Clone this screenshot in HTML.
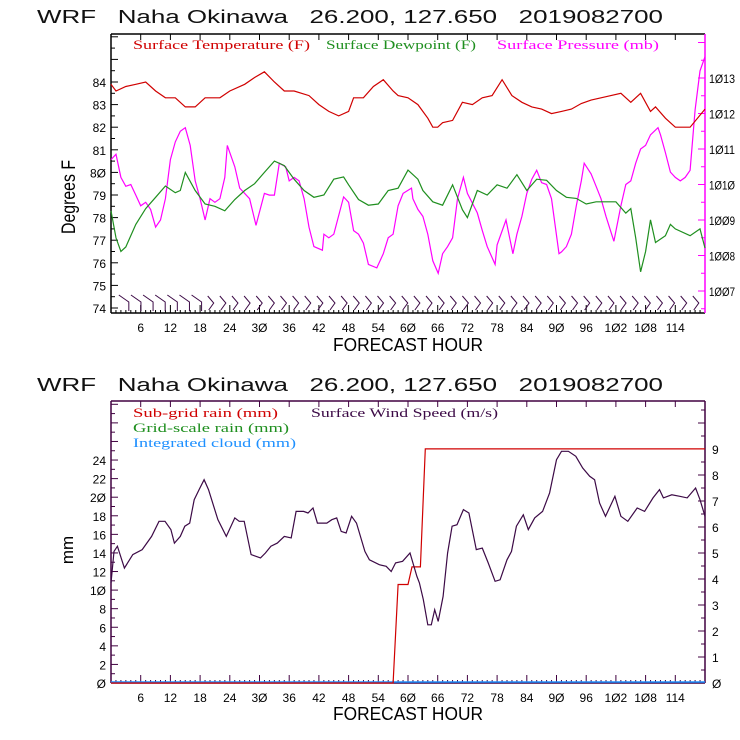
<!DOCTYPE html>
<html><head><meta charset="utf-8"><style>
html,body{margin:0;padding:0;background:#fff;}
svg{display:block;}
text{font-family:"Liberation Sans",sans-serif;}
.t{font-size:18px;fill:#111;}
.lg{font-family:"Liberation Serif",serif;font-size:13px;}
.tk{font-size:12px;}
</style></head><body>
<svg id="svg" width="740" height="740" viewBox="0 0 740 740" xmlns="http://www.w3.org/2000/svg">
<text class="t" x="37" y="23" textLength="626" lengthAdjust="spacingAndGlyphs" xml:space="preserve">WRF   Naha Okinawa   26.200, 127.650   2019082700</text>
<text class="t" x="37" y="391" textLength="626" lengthAdjust="spacingAndGlyphs" xml:space="preserve">WRF   Naha Okinawa   26.200, 127.650   2019082700</text>
<g id="top"></g>
<g id="bot"></g>
<text class="lg" x="133" y="49" fill="#d00000" textLength="177" lengthAdjust="spacingAndGlyphs">Surface Temperature (F)</text>
<text class="lg" x="326" y="49" fill="#1f8f1f" textLength="150" lengthAdjust="spacingAndGlyphs">Surface Dewpoint (F)</text>
<text class="lg" x="497" y="49" fill="#ff00ff" textLength="162" lengthAdjust="spacingAndGlyphs">Surface Pressure (mb)</text>
<text class="lg" x="133" y="417" fill="#d00000" textLength="145" lengthAdjust="spacingAndGlyphs">Sub-grid rain (mm)</text>
<text class="lg" x="133" y="432" fill="#1f8f1f" textLength="156" lengthAdjust="spacingAndGlyphs">Grid-scale rain (mm)</text>
<text class="lg" x="133" y="447" fill="#1e90ff" textLength="163" lengthAdjust="spacingAndGlyphs">Integrated cloud (mm)</text>
<text class="lg" x="311" y="417" fill="#3c0a46" textLength="187" lengthAdjust="spacingAndGlyphs">Surface Wind Speed (m/s)</text>
<text x="75" y="197" font-size="19" transform="rotate(-90 75 197)" text-anchor="middle" textLength="74" lengthAdjust="spacingAndGlyphs">Degrees F</text>
<text x="73" y="550" font-size="17" transform="rotate(-90 73 550)" text-anchor="middle">mm</text>
<text x="408" y="351" font-size="18" text-anchor="middle" textLength="150" lengthAdjust="spacingAndGlyphs">FORECAST HOUR</text>
<text x="408" y="720" font-size="18" text-anchor="middle" textLength="150" lengthAdjust="spacingAndGlyphs">FORECAST HOUR</text>
</svg>
<script>
const tempHours=[0,1,3,5,7,9,11,13,15,17,19,22,24,27,29,31,33,35,37,40,42,44,46,48,49,51,53,55,57,58,60,62,64,65,66,67,69,71,73,75,77,79,81,83,85,87,89,91,93,95,97,100,103,105,107,109,110,112,114,117,120];
const tempVals=[83.9,83.6,83.8,83.9,84.0,83.6,83.3,83.3,82.9,82.9,83.3,83.3,83.6,83.9,84.2,84.45,84.0,83.6,83.6,83.4,83.0,82.7,82.5,82.7,83.3,83.3,83.8,84.1,83.6,83.4,83.3,83.0,82.4,82.0,82.0,82.2,82.3,83.1,83.0,83.3,83.4,84.1,83.4,83.1,82.9,82.8,82.6,82.7,82.8,83.05,83.2,83.35,83.5,83.1,83.5,82.7,82.9,82.4,82.0,82.0,82.8];
const dewHours=[0,1,2,3,5,7,9,11,13,14,15,17,19,21,23,25,27,29,31,33,35,37,39,41,43,45,47,48,50,52,54,56,58,60,62,63,65,67,69,71,72,74,76,78,80,82,84,86,88,90,92,94,96,98,102,104,105,106,107,108,109,110,112,113,114,117,119,120];
const dewVals=[78.3,77.1,76.5,76.7,77.7,78.4,78.9,79.4,79.1,79.2,80.0,79.2,78.6,78.5,78.3,78.8,79.2,79.5,80.0,80.5,80.3,79.7,79.2,78.9,79.0,79.7,79.8,79.45,78.8,78.55,78.6,79.2,79.3,80.1,79.7,79.2,78.7,78.55,79.45,78.35,78.0,79.2,79.0,79.45,79.3,79.9,79.2,79.7,79.65,79.2,78.9,78.85,78.6,78.7,78.7,78.2,78.4,77.1,75.6,76.5,77.9,76.9,77.2,77.7,77.5,77.2,77.5,76.65];
const presHours=[0,1,2,3,4,5,6,7,8,9,10,11,12,13,14,15,16,17,18,19,20,21,22,23,23.5,25,26,28,29.3,31,32,33,34,35.3,36,37,38,39,40,41,42.7,43,44,45,47,48,49,50,51,52,53.7,55,56,57,58,59,60.7,61,62,63,64,65,66.1,67,68,69,70,71.2,72,74,75,76,77.6,78,79.8,81.2,82,83,84,85,86,87,88,89,90.5,91,92,93,94,95,95.6,97,98,99,100,101.6,103,104,105,106,107,108,109,110.5,111,112,113,114,115,116,117,118,119,120];
const presVals=[1010.7,1010.85,1010.2,1009.95,1010.0,1009.7,1009.4,1009.5,1009.3,1008.8,1009.0,1009.6,1010.7,1011.2,1011.5,1011.6,1011.1,1010.1,1009.6,1009.0,1009.6,1009.5,1009.6,1010.2,1011.1,1010.5,1009.9,1009.6,1008.85,1009.75,1009.7,1009.7,1010.6,1010.5,1010.1,1010.2,1010.1,1009.6,1008.8,1008.25,1008.15,1008.6,1008.5,1008.6,1009.65,1009.5,1008.7,1008.6,1008.35,1007.75,1007.65,1008.05,1008.5,1008.6,1009.4,1009.75,1009.9,1009.6,1009.3,1009.1,1008.6,1007.85,1007.5,1008.05,1008.25,1008.5,1009.6,1010.2,1009.75,1009.2,1008.7,1008.25,1007.75,1008.3,1009.0,1008.05,1008.6,1009.1,1009.75,1010.15,1010.4,1010.05,1010.0,1009.6,1008.05,1008.1,1008.25,1008.6,1009.4,1010.1,1010.6,1010.3,1009.95,1009.6,1009.1,1008.4,1009.4,1010.0,1010.1,1010.6,1011.0,1011.1,1011.4,1011.6,1011.4,1010.9,1010.35,1010.2,1010.1,1010.2,1010.4,1012.1,1013.2,1013.6];
const windHours=[0,0.6,1.3,2.7,4.4,6.3,8.2,9.7,10.9,12.1,12.8,14,14.9,15.9,16.8,17.8,18.8,19.7,21.6,23.3,25,25.9,26.9,28.3,30.2,31.2,32.3,33.6,35,36.4,37.4,38.9,39.8,40.8,41.7,43.6,44.6,45.6,46.5,47.5,48.6,49.6,51.3,52.2,54.2,55.6,56.6,57.5,58.9,60.4,61.8,62.3,63.1,64,64.7,65.4,66.1,67.1,68,68.9,69.9,71.2,72.3,73.8,75,76.2,77.6,78.6,80,80.9,81.9,83.3,84.3,85.6,87.2,88.6,90,91,92.4,93.9,95.3,96.7,97.7,98.7,99.9,101.8,103,104.4,106.3,107.8,109.5,110.8,111.6,113.3,114.9,116.4,118.1,119,120];
const windVals=[3.85,5.06,5.26,4.42,4.94,5.13,5.64,6.22,6.22,5.9,5.38,5.64,6.03,6.15,7.05,7.44,7.82,7.44,6.28,5.64,6.35,6.22,6.22,4.94,4.81,5.0,5.26,5.38,5.64,5.58,6.6,6.6,6.54,6.73,6.15,6.15,6.28,6.35,5.83,5.77,6.41,6.15,5.06,4.74,4.55,4.49,4.29,4.62,4.68,5.0,4.1,3.85,3.21,2.24,2.24,2.82,2.37,3.33,5.0,6.03,6.09,6.67,6.54,5.13,5.19,4.62,3.91,3.97,4.74,5.06,6.03,6.47,5.9,6.35,6.6,7.31,8.59,8.91,8.91,8.72,8.27,7.95,7.82,6.92,6.41,7.18,6.41,6.22,6.73,6.6,7.12,7.44,7.12,7.24,7.18,7.12,7.5,7.05,6.41];
const rainHours=[0,57,58,60,60.8,62.5,63.5,120];
const rainVals=[0,0,10.6,10.6,12.5,12.5,25.2,25.2];
const xTicks=[6,12,18,24,30,36,42,48,54,60,66,72,78,84,90,96,102,108,114];
const tempTicks=[74,75,76,77,78,79,80,81,82,83,84];
const presTicks=[1007,1008,1009,1010,1011,1012,1013];
const mmTicks=[0,2,4,6,8,10,12,14,16,18,20,22,24];
const windTicks=[0,1,2,3,4,5,6,7,8,9];

const NS='http://www.w3.org/2000/svg';
const X0=111,X1=705;
const xs=h=>X0+(X1-X0)*h/120;
function lin(d0,d1,p0,p1){return v=>p0+(v-d0)*(p1-p0)/(d1-d0);}
function mk(par,tag,at){const e=document.createElementNS(NS,tag);for(const k in at)e.setAttribute(k,at[k]);par.appendChild(e);return e;}
function fmt(v){return String(v).replace(/0/g,'Ø');}
function path(par,hs,vs,ys,col,name){
  let d='';for(let i=0;i<hs.length;i++)d+=(i?'L':'M')+xs(hs[i]).toFixed(1)+','+ys(vs[i]).toFixed(1);
  const p=mk(par,'path',{d:d,fill:'none',stroke:col,'stroke-width':1.2});
  
  
}
function frame(g,T,B,col,rcol){
  mk(g,'line',{x1:X0,y1:T,x2:X1,y2:T,stroke:col,'stroke-width':1.5});
  mk(g,'line',{x1:X0,y1:B,x2:X1,y2:B,stroke:col,'stroke-width':1.5});
  mk(g,'line',{x1:X0,y1:T,x2:X0,y2:B,stroke:col,'stroke-width':1.5});
  mk(g,'line',{x1:X1,y1:T,x2:X1,y2:B,stroke:rcol,'stroke-width':1.5});
  for(let h=1;h<120;h++){const x=xs(h);const L=h%6===0?8:3;
    mk(g,'line',{x1:x,y1:B,x2:x,y2:B-L,stroke:col,'stroke-width':1});
    if(h%6===0)mk(g,'line',{x1:x,y1:T,x2:x,y2:T+6,stroke:col,'stroke-width':1});}
  xTicks.forEach(h=>{const t=mk(g,'text',{x:xs(h),y:B+19,'text-anchor':'middle','class':'tk'});t.textContent=fmt(h);
    
    });
}
(function(){
  const g=document.getElementById('top');const T=34,B=313;
  const yP=lin(1007,1013,291,78);
  const yTT=v=>308-(v-74)*22.6;
  frame(g,T,B,'#000','#ff00ff');
  for(let v=74;v<=86;v+=0.5){const y=yTT(v);if(y<T)break;mk(g,'line',{x1:X0,y1:y,x2:X0+(v%1?4:7),y2:y,stroke:'#000'});}
  tempTicks.forEach(v=>{const t=mk(g,'text',{x:106,y:yTT(v)+5,'text-anchor':'end','class':'tk'});t.textContent=fmt(v);
    
    });
  for(let v=1006.5;v<=1014;v+=0.5){const y=yP(v);if(y<T||y>B)continue;mk(g,'line',{x1:X1,y1:y,x2:X1-(v%1?4:7),y2:y,stroke:'#ff00ff'});}
  presTicks.forEach(v=>{const t=mk(g,'text',{x:709,y:yP(v)+5,'class':'tk',textLength:26,lengthAdjust:'spacingAndGlyphs'});t.textContent=fmt(v);
    
    });
  path(g,presHours,presVals,yP,'#ff00ff','pressure-line');
  path(g,dewHours,dewVals,yTT,'#1f8f1f','dewpoint-line');
  path(g,tempHours,tempVals,yTT,'#d00000','temperature-line');
  for(let h=3.6;h<120;h+=2.45){const x=xs(h);const p=mk(g,'polyline',{points:h<20?`${x-10},${295} ${x},${302} ${x},${311}`:`${x-6},${296} ${x},${303} ${x-5},${310}`,fill:'none',stroke:'#3c0a46','stroke-width':1});
    
    }
})();
(function(){
  const g=document.getElementById('bot');const T=401,B=683;
  const yM=v=>683-v*9.29, yW=v=>683-v*26;
  frame(g,T,B,'#400040','#400040');
  for(let v=1;v<=30;v++){const y=yM(v);if(y<T)break;mk(g,'line',{x1:X0,y1:y,x2:X0+(v%2?4:7),y2:y,stroke:'#400040'});}
  mmTicks.forEach(v=>{const t=mk(g,'text',{x:106,y:yM(v)+5,'text-anchor':'end','class':'tk'});t.textContent=fmt(v);
    
    });
  for(let v=0.5;v<=10.5;v+=0.5){const y=yW(v);if(y<T)break;mk(g,'line',{x1:X1,y1:y,x2:X1-(v%1?4:7),y2:y,stroke:'#400040'});}
  windTicks.forEach(v=>{const t=mk(g,'text',{x:712,y:yW(v)+5,'class':'tk'});t.textContent=fmt(v);
    
    });
  const c=mk(g,'line',{x1:X0,y1:B-1,x2:X1,y2:B-1,stroke:'#1e90ff','stroke-width':1.5});
  
  
  path(g,rainHours,rainVals,yM,'#d00000','subgrid-rain-line');
  path(g,windHours,windVals,yW,'#3c0a46','wind-speed-line');
})();
</script>
</body></html>
